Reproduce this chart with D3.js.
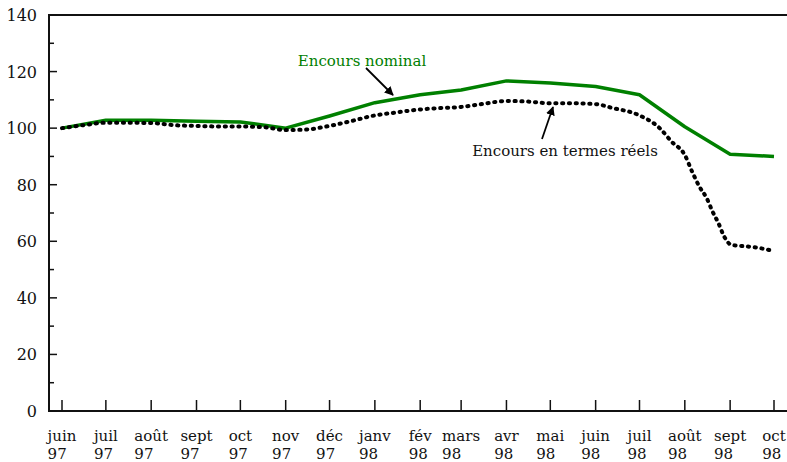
<!DOCTYPE html>
<html>
<head>
<meta charset="utf-8">
<script src="https://cdn.jsdelivr.net/npm/d3@7"></script>
<style>
body{margin:0;background:#fff;}
</style>
</head>
<body>
<svg class="chart"></svg>
<script>
// monthly points (nominal series) and x tick labels
var monthDates = ["1997-06-01","1997-07-01","1997-08-01","1997-09-01","1997-10-01","1997-11-01","1997-12-01",
                  "1998-01-01","1998-02-01","1998-03-01","1998-04-01","1998-05-01","1998-06-01","1998-07-01",
                  "1998-08-01","1998-09-01","1998-10-01"];
var monthLabels = ["juin","juil","août","sept","oct","nov","déc","janv","fév","mars","avr","mai","juin","juil","août","sept","oct"];
var yearLabels = ["97","97","97","97","97","97","97","98","98","98","98","98","98","98","98","98","98"];
var nominal = [100,102.8,102.8,102.4,102.2,100,104.3,109,111.8,113.5,116.7,116,114.7,111.8,100.5,90.8,90];

// real series, read at a finer step
var realDates = ["1997-06-01","1997-06-15","1997-07-01","1997-07-15","1997-08-01","1997-08-18","1997-09-01","1997-09-15",
                 "1997-10-01","1997-10-18","1997-11-01","1997-11-15","1997-12-01","1997-12-15","1998-01-01","1998-01-15",
                 "1998-02-01","1998-02-15","1998-03-01","1998-03-15","1998-04-01","1998-04-15","1998-05-01","1998-05-15",
                 "1998-06-01","1998-06-12","1998-07-01","1998-07-15","1998-07-23","1998-08-01","1998-08-06","1998-08-11",
                 "1998-08-16","1998-08-20","1998-08-24","1998-08-28","1998-09-02","1998-09-10","1998-09-19","1998-09-26","1998-10-01"];
var realValues = [100,101,101.9,101.9,101.8,101,100.8,100.6,
                  100.6,100.3,99.3,99.5,100.8,102.4,104.5,105.5,
                  106.6,107.1,107.5,108.5,109.6,109.4,108.8,108.8,
                  108.5,107.2,104.5,99.9,95.2,90.5,84.6,79.3,
                  75.2,70.5,66.4,61.6,58.7,58.3,57.8,57.1,56.5];

var yTicks = [0,20,40,60,80,100,120,140];
var yMinor = [10,30,50,70,90,110,130];

var drawChart = function(w,h)
{
  var serif = "'DejaVu Serif', 'Liberation Serif', serif";
  var svg = d3.select(".chart")
              .attr("width",w)
              .attr("height",h)
              .style("font-family",serif);

  var parse = d3.timeParse("%Y-%m-%d");

  var xScale = d3.scaleTime()
                 .domain([parse("1997-06-01"),parse("1998-10-01")])
                 .range([62,774]);
  var yScale = d3.scaleLinear()
                 .domain([0,140])
                 .range([411,15]);

  var axisX0 = 49;

  // frame: left axis, top line, bottom axis
  svg.append("line").attr("x1",axisX0).attr("x2",w).attr("y1",yScale(140)).attr("y2",yScale(140))
     .attr("stroke","#111").attr("stroke-width",2);
  svg.append("line").attr("x1",axisX0).attr("x2",axisX0).attr("y1",yScale(140)-1).attr("y2",yScale(0)+1)
     .attr("stroke","#111").attr("stroke-width",2);
  svg.append("line").attr("x1",axisX0).attr("x2",w).attr("y1",yScale(0)).attr("y2",yScale(0))
     .attr("stroke","#111").attr("stroke-width",2);

  // y ticks (pointing in)
  svg.selectAll(".ymaj").data(yTicks).enter().append("line")
     .attr("x1",axisX0).attr("x2",axisX0+8)
     .attr("y1",function(d){return yScale(d)}).attr("y2",function(d){return yScale(d)})
     .attr("stroke","#111").attr("stroke-width",1.5);
  svg.selectAll(".ymin").data(yMinor).enter().append("line")
     .attr("x1",axisX0).attr("x2",axisX0+5)
     .attr("y1",function(d){return yScale(d)}).attr("y2",function(d){return yScale(d)})
     .attr("stroke","#111").attr("stroke-width",1.5);
  svg.selectAll(".ylab").data(yTicks).enter().append("text")
     .attr("x",37).attr("y",function(d){return yScale(d)+6})
     .attr("text-anchor","end").attr("font-size",16).attr("fill","#111")
     .attr("font-family",serif)
     .text(function(d){return d});

  // x ticks (pointing up)
  var dates = monthDates.map(parse);
  svg.selectAll(".xt").data(dates).enter().append("line")
     .attr("x1",function(d){return xScale(d)}).attr("x2",function(d){return xScale(d)})
     .attr("y1",yScale(0)).attr("y2",yScale(0)-11)
     .attr("stroke","#111").attr("stroke-width",1.5);

  var labs = svg.selectAll(".xl").data(dates).enter().append("g");
  labs.each(function(d,i){
    var g = d3.select(this);
    var m = g.append("text").attr("font-size",15).attr("fill","#111")
             .attr("font-family",serif)
             .attr("y",441).text(monthLabels[i]);
    var mw = m.node().getComputedTextLength();
    var x0 = xScale(d) - mw/2;
    m.attr("x",x0);
    g.append("text").attr("font-size",15).attr("fill","#111")
     .attr("font-family",serif)
     .attr("x",x0).attr("y",459).text(yearLabels[i]);
  });

  // lines
  var nomData = dates.map(function(d,i){return {date:d,value:nominal[i]}});
  var realData = realDates.map(function(d,i){return {date:parse(d),value:realValues[i]}});

  var drawLine = d3.line()
                   .x(function(d){return xScale(d.date)})
                   .y(function(d){return yScale(d.value)});
  var drawSmooth = d3.line()
                     .curve(d3.curveMonotoneX)
                     .x(function(d){return xScale(d.date)})
                     .y(function(d){return yScale(d.value)});

  svg.append("path").datum(nomData)
     .attr("d",drawLine)
     .attr("fill","none").attr("stroke","#008000").attr("stroke-width",3.5)
     .attr("stroke-linejoin","round");

  svg.append("path").datum(realData)
     .attr("d",drawSmooth)
     .attr("fill","none").attr("stroke","#000").attr("stroke-width",4)
     .attr("stroke-linecap","round").attr("stroke-dasharray","1.2,5.6");

  // annotations
  svg.append("defs").append("marker")
     .attr("id","arrow").attr("viewBox","0 0 10 10")
     .attr("refX",9).attr("refY",5)
     .attr("markerWidth",5).attr("markerHeight",5)
     .attr("orient","auto")
     .append("path").attr("d","M0,0 L10,5 L0,10 Z").attr("fill","#000");

  svg.append("text").attr("x",362).attr("y",66).attr("text-anchor","middle")
     .attr("font-family",serif)
     .attr("font-size",15).attr("fill","#008000").text("Encours nominal");
  svg.append("line").attr("x1",366).attr("y1",68).attr("x2",393).attr("y2",95)
     .attr("stroke","#000").attr("stroke-width",1.8).attr("marker-end","url(#arrow)");

  svg.append("text").attr("x",565).attr("y",156).attr("text-anchor","middle")
     .attr("font-family",serif)
     .attr("font-size",15).attr("fill","#111").text("Encours en termes réels");
  svg.append("line").attr("x1",542).attr("y1",139).attr("x2",553).attr("y2",107)
     .attr("stroke","#000").attr("stroke-width",1.8).attr("marker-end","url(#arrow)");
}

drawChart(787,462);
</script>
</body>
</html>
